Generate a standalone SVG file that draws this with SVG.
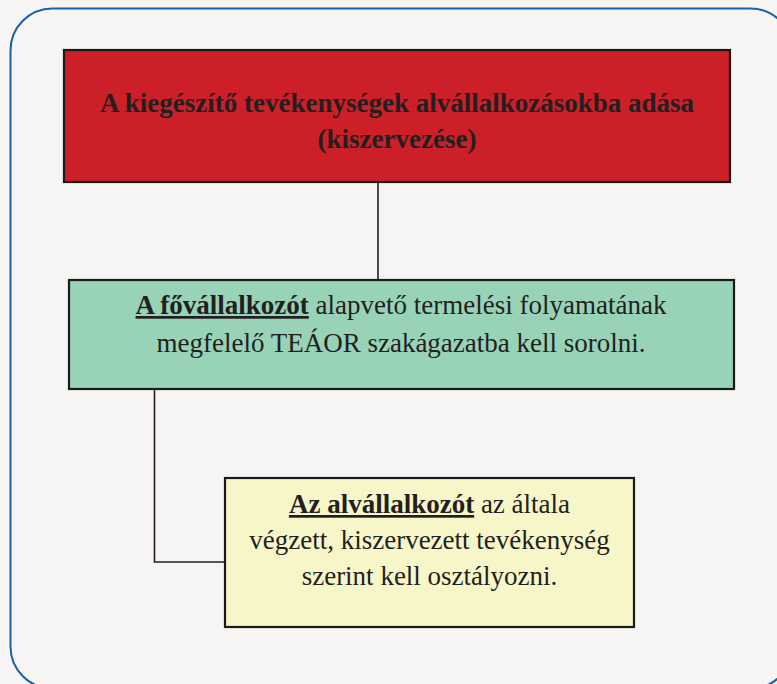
<svg xmlns="http://www.w3.org/2000/svg" width="777" height="684" viewBox="0 0 777 684">
<style>
.box{stroke:#1a1a1a;stroke-width:2.2}
.t{font-family:"Liberation Serif","Times New Roman",serif;font-size:27px;fill:#231f20;text-anchor:middle}
.b{font-weight:bold}
.c{fill:none;stroke:#231f20;stroke-width:1.6}
</style>
<rect x="0" y="0" width="777" height="684" fill="#f6f5f3"/>
<rect x="10.5" y="8.5" width="782" height="680" rx="42" ry="42" fill="none" stroke="#1a62a8" stroke-width="2"/>
<g id="connectors">
<path class="c" d="M378,182 V280"/>
<path class="c" d="M154.5,389 V562 H225"/>
</g>
<g id="node-red">
<rect class="box" x="64" y="50" width="666" height="132" fill="#cc1f27"/>
<text class="t b" x="397" y="112">A kiegészítő tevékenységek alvállalkozásokba adása</text>
<text class="t b" x="397" y="148">(kiszervezése)</text>
</g>
<g id="node-green">
<rect class="box" x="69" y="280" width="665" height="109" fill="#98d3b8"/>
<text class="t" x="401" y="314"><tspan class="b" text-decoration="underline">A fővállalkozót</tspan> alapvető termelési folyamatának</text>
<text class="t" x="401" y="352">megfelelő TEÁOR szakágazatba kell sorolni.</text>
</g>
<g id="node-yellow">
<rect class="box" x="225" y="478" width="409" height="149" fill="#f7f6c8"/>
<text class="t" x="429.5" y="513"><tspan class="b" text-decoration="underline">Az alvállalkozót</tspan> az általa</text>
<text class="t" x="429.5" y="549">végzett, kiszervezett tevékenység</text>
<text class="t" x="429.5" y="585">szerint kell osztályozni.</text>
</g>
</svg>
